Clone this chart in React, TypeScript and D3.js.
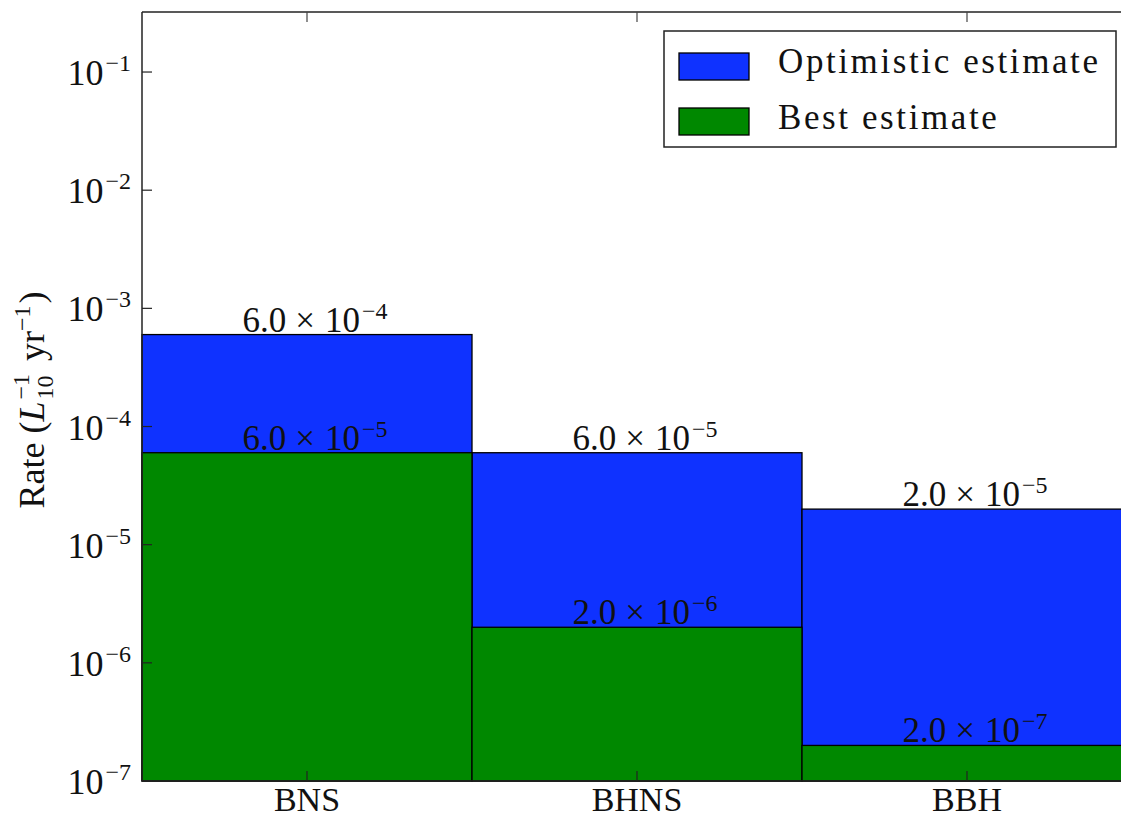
import React, { useEffect } from "react";
import * as d3 from "d3";

const categories = ["BNS", "BHNS", "BBH"];
const optimistic = [6e-4, 6e-5, 2e-5];
const best = [6e-5, 2e-6, 2e-7];
const seriesNames = ["Optimistic estimate", "Best estimate"];
const seriesColors = ["#0f32ff", "#008800"];
const yTickExponents = [-7, -6, -5, -4, -3, -2, -1];

const W = 1121;
const H = 817;
const M = { left: 142, top: 12, bottom: 36 };
const plotRight = 1132;
const FONT = "'Liberation Serif', 'Times New Roman', serif";
const FS = 35;
const SUP = 24;
const INK = "#111";

function sci(v: number) {
  const e = Math.floor(Math.log10(v) + 1e-9);
  const m = v / Math.pow(10, e);
  return { m: m.toFixed(1), e: String(e).replace("-", "\u2212") };
}

export default function App() {
  useEffect(() => {
    document.body.style.overflow = "hidden";
    document.documentElement.style.overflow = "hidden";
  }, []);

  const y0 = H - M.bottom;
  const x = d3.scaleBand<string>().domain(categories).range([M.left, plotRight]).padding(0);
  const y = d3.scaleLog().domain([1e-7, Math.pow(10, -0.492)]).range([y0, M.top]);
  const bw = x.bandwidth();

  const label = (v: number, cx: number, key: string) => {
    const s = sci(v);
    return (
      <text key={key} x={cx + 8} y={y(v) - 3} textAnchor="middle" fontFamily={FONT} fontSize={FS} fill={INK}>
        {s.m}
        <tspan dx={9}>{"\u00d7"}</tspan>
        <tspan dx={10}>{"10"}</tspan>
        <tspan dx={2} dy={-13} fontSize={SUP}>{s.e}</tspan>
      </text>
    );
  };

  return (
    <svg width={W} height={H} style={{ position: "absolute", left: 0, top: 0, background: "#fff", overflow: "hidden" }}>
      {/* bars */}
      {categories.map((c, i) => (
        <rect key={"o" + c} x={x(c)} y={y(optimistic[i])} width={bw} height={y0 - y(optimistic[i])}
          fill={seriesColors[0]} stroke="#000" strokeWidth={1.3} />
      ))}
      {categories.map((c, i) => (
        <rect key={"b" + c} x={x(c)} y={y(best[i])} width={bw} height={y0 - y(best[i])}
          fill={seriesColors[1]} stroke="#000" strokeWidth={1.3} />
      ))}
      {/* frame */}
      <line x1={M.left} x2={plotRight} y1={M.top} y2={M.top} stroke="#222" strokeWidth={1.5} />
      <line x1={M.left} x2={plotRight} y1={y0} y2={y0} stroke="#222" strokeWidth={1.5} />
      <line x1={M.left} x2={M.left} y1={M.top} y2={y0} stroke="#222" strokeWidth={1.5} />
      {/* y ticks */}
      {yTickExponents.map((e) => {
        const ty = y(Math.pow(10, e));
        return (
          <g key={"yt" + e}>
            <line x1={M.left} x2={M.left + 10} y1={ty} y2={ty} stroke="#222" strokeWidth={1.2} />
            <text x={M.left - 11} y={ty + 13} textAnchor="end" fontFamily={FONT} fontSize={36} fill={INK}>
              {"10"}
              <tspan dx={2} dy={-14} fontSize={SUP}>{"\u2212" + Math.abs(e)}</tspan>
            </text>
          </g>
        );
      })}
      {/* x ticks (bottom and top) */}
      {categories.map((c) => {
        const cx = (x(c) as number) + bw / 2;
        return (
          <g key={"xt" + c}>
            <line x1={cx} x2={cx} y1={y0} y2={y0 - 10} stroke="#222" strokeWidth={1.2} />
            <line x1={cx} x2={cx} y1={M.top} y2={M.top + 10} stroke="#444" strokeWidth={1.2} />
            <text x={cx} y={y0 + 30} textAnchor="middle" fontFamily={FONT} fontSize={34} fill={INK}>{c}</text>
          </g>
        );
      })}
      {/* value labels */}
      {categories.map((c, i) => label(optimistic[i], (x(c) as number) + bw / 2, "lo" + c))}
      {categories.map((c, i) => label(best[i], (x(c) as number) + bw / 2, "lb" + c))}
      {/* y label */}
      <text transform={`translate(44,${400}) rotate(-90)`} textAnchor="middle" fontFamily={FONT} fontSize={36} fill={INK}>
        {"Rate ("}
        <tspan fontStyle="italic">L</tspan>
        <tspan dx={2} dy={9} fontSize={24}>10</tspan>
        <tspan dx={-24} dy={-24} fontSize={24}>{"\u22121"}</tspan>
        <tspan dx={4} dy={15}>{" yr"}</tspan>
        <tspan dy={-14} fontSize={24}>{"\u22121"}</tspan>
        <tspan dx={2} dy={14}>{")"}</tspan>
      </text>
      {/* legend */}
      <g>
        <rect x={664} y={31} width={452} height={116} fill="#fff" stroke="#222" strokeWidth={1.5} />
        {seriesNames.map((n, i) => (
          <g key={n}>
            <rect x={679} y={53 + i * 55} width={70} height={27} fill={seriesColors[i]} stroke="#000" strokeWidth={1.3} />
            <text x={778} y={73 + i * 56} fontFamily={FONT} fontSize={35} letterSpacing={2.6} fill={INK}>{n}</text>
          </g>
        ))}
      </g>
    </svg>
  );
}
